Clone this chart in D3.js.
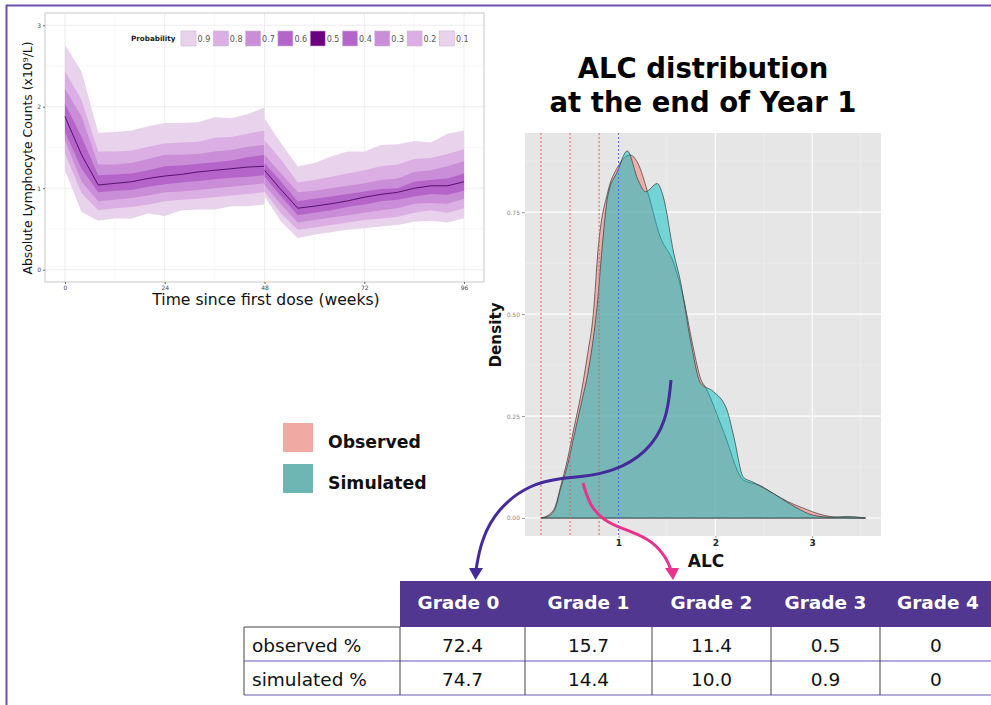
<!DOCTYPE html>
<html><head><meta charset="utf-8">
<script src="https://cdn.jsdelivr.net/npm/d3@7"></script>
<style>body{margin:0;background:#fff}svg{display:block}</style>
</head><body>
<svg id="fig" width="991" height="705"></svg>
<script>
// ---------- ALC time course: quantile bands, two dosing years ----------
const weeksA = [0,4,8,12,16,20,24,28,32,36,40,44,48];
const weeksB = [48,52,56,60,64,68,72,76,80,84,88,92,96];

const outerUpA = [2.76,2.43,1.68,1.69,1.71,1.76,1.80,1.80,1.81,1.87,1.86,1.91,1.99];
const band2UpA = [2.44,2.08,1.45,1.45,1.46,1.51,1.55,1.56,1.57,1.62,1.63,1.67,1.71];
const band3UpA = [2.22,1.88,1.29,1.29,1.31,1.36,1.41,1.41,1.42,1.45,1.47,1.51,1.53];
const band4UpA = [2.04,1.63,1.16,1.17,1.18,1.22,1.27,1.28,1.30,1.32,1.34,1.38,1.41];
const medianA  = [1.88,1.41,1.04,1.06,1.08,1.12,1.15,1.17,1.20,1.22,1.24,1.26,1.27];
const band4LoA = [1.69,1.24,0.95,0.97,0.98,1.02,1.05,1.07,1.09,1.11,1.13,1.14,1.16];
const band3LoA = [1.59,1.08,0.84,0.86,0.88,0.91,0.95,0.96,0.98,1.00,1.02,1.04,1.06];
const band2LoA = [1.43,0.94,0.73,0.755,0.77,0.80,0.84,0.86,0.87,0.89,0.91,0.93,0.95];
const outerLoA = [1.22,0.71,0.60,0.63,0.63,0.69,0.66,0.73,0.74,0.74,0.78,0.78,0.80];

const outerUpB = [1.86,1.55,1.27,1.31,1.39,1.45,1.45,1.53,1.54,1.58,1.56,1.67,1.71];
const band2UpB = [1.59,1.35,1.07,1.10,1.14,1.18,1.22,1.27,1.29,1.36,1.37,1.42,1.48];
const band3UpB = [1.41,1.18,0.95,0.97,1.00,1.03,1.06,1.10,1.12,1.20,1.22,1.27,1.33];
const band4UpB = [1.31,1.08,0.84,0.87,0.90,0.93,0.96,0.99,1.00,1.08,1.10,1.12,1.18];
const medianB  = [1.22,0.98,0.755,0.78,0.81,0.845,0.89,0.925,0.95,1.00,1.03,1.03,1.08];
const band4LoB = [1.14,0.90,0.67,0.70,0.73,0.77,0.80,0.84,0.86,0.90,0.93,0.92,0.97];
const band3LoB = [1.04,0.80,0.58,0.61,0.64,0.67,0.70,0.73,0.755,0.81,0.82,0.81,0.87];
const band2LoB = [0.96,0.69,0.49,0.52,0.55,0.58,0.61,0.63,0.65,0.70,0.73,0.70,0.755];
const outerLoB = [0.90,0.59,0.39,0.43,0.46,0.49,0.51,0.53,0.55,0.59,0.60,0.58,0.63];

const probLevels = ["0.9","0.8","0.7","0.6","0.5","0.4","0.3","0.2","0.1"];
const timeTicks = [0,24,48,72,96];
const countTicks = [0,1,2,3];

// ---------- ALC distribution at end of year 1 ----------
const obsAlc     = [0.2,0.28,0.35,0.40,0.47,0.54,0.61,0.68,0.74,0.79,0.89,0.99,1.12,1.20,1.30,1.43,1.57,1.67,1.77,1.85,1.90,2.08,2.29,2.46,2.60,2.75,2.90,3.10,3.25,3.55];
const obsDensity = [0,0.008,0.03,0.075,0.14,0.22,0.30,0.40,0.50,0.66,0.80,0.86,0.89,0.87,0.80,0.69,0.625,0.54,0.42,0.34,0.32,0.215,0.093,0.08,0.06,0.04,0.025,0.008,0.002,0];
const simAlc     = [0.2,0.28,0.35,0.40,0.47,0.54,0.61,0.68,0.74,0.78,0.83,0.89,0.99,1.09,1.20,1.28,1.40,1.46,1.57,1.64,1.74,1.85,1.98,2.12,2.19,2.29,2.39,2.60,2.84,3.01,3.20,3.36,3.55];
const simDensity = [0,0.005,0.025,0.07,0.126,0.20,0.275,0.35,0.44,0.52,0.66,0.79,0.85,0.90,0.83,0.80,0.82,0.79,0.65,0.58,0.44,0.33,0.31,0.265,0.20,0.10,0.088,0.06,0.025,0.007,0.002,0.004,0];
const gradeCuts = [0.2,0.5,0.8];
const lowerNormal = 1.0;
const alcTicks = [1,2,3];
const densityTicks = [0,0.25,0.5,0.75];

// ---------- grade table ----------
const grades = ["Grade 0","Grade 1","Grade 2","Grade 3","Grade 4"];
const rowNames = ["observed %","simulated %"];
const observedPct = ["72.4","15.7","11.4","0.5","0"];
const simulatedPct = ["74.7","14.4","10.0","0.9","0"];

const svg = d3.select("#fig");
const FONT = "DejaVu Sans, Verdana, sans-serif";

svg.append("rect").attr("width",991).attr("height",705).attr("fill","#fff");

// ======== time-course panel ========
const L = {x0:45, x1:484, y0:13, y1:282};
const xT = d3.scaleLinear().domain([-4.8,100.8]).range([L.x0,L.x1]);
const yT = d3.scaleLinear().domain([-0.15,3.15]).range([L.y1,L.y0]);
const gL = svg.append("g");
gL.append("rect").attr("x",L.x0).attr("y",L.y0).attr("width",L.x1-L.x0).attr("height",L.y1-L.y0).attr("fill","#fff");
// grid
[12,36,60,84].forEach(v=>gL.append("line").attr("x1",xT(v)).attr("x2",xT(v)).attr("y1",L.y0).attr("y2",L.y1).attr("stroke","#f4f4f4").attr("stroke-width",0.6));
[0.5,1.5,2.5].forEach(v=>gL.append("line").attr("y1",yT(v)).attr("y2",yT(v)).attr("x1",L.x0).attr("x2",L.x1).attr("stroke","#f4f4f4").attr("stroke-width",0.6));
timeTicks.forEach(v=>gL.append("line").attr("x1",xT(v)).attr("x2",xT(v)).attr("y1",L.y0).attr("y2",L.y1).attr("stroke","#ebebeb").attr("stroke-width",0.9));
countTicks.forEach(v=>gL.append("line").attr("y1",yT(v)).attr("y2",yT(v)).attr("x1",L.x0).attr("x2",L.x1).attr("stroke","#ebebeb").attr("stroke-width",0.9));

const bandFill = ["#e9d2ec","#dbafe3","#ca8dd7","#b564c9"];
function drawSegment(weeks, ups, los, med){
  ups.forEach((up,i)=>{
    const lo = los[i];
    const area = d3.area().x((d,j)=>xT(weeks[j])).y0((d,j)=>yT(lo[j])).y1((d,j)=>yT(up[j]));
    gL.append("path").attr("d",area(weeks)).attr("fill",bandFill[i]);
  });
  const line = d3.line().x((d,j)=>xT(weeks[j])).y(d=>yT(d));
  gL.append("path").attr("d",line(med)).attr("fill","none").attr("stroke","#4a0860").attr("stroke-width",0.9);
}
drawSegment(weeksA,[outerUpA,band2UpA,band3UpA,band4UpA],[outerLoA,band2LoA,band3LoA,band4LoA],medianA);
drawSegment(weeksB,[outerUpB,band2UpB,band3UpB,band4UpB],[outerLoB,band2LoB,band3LoB,band4LoB],medianB);

gL.append("rect").attr("x",L.x0).attr("y",L.y0).attr("width",L.x1-L.x0).attr("height",L.y1-L.y0).attr("fill","none").attr("stroke","#c8c8c8").attr("stroke-width",1);

const axB = gL.append("g").attr("transform",`translate(0,${L.y1})`).call(d3.axisBottom(xT).tickValues(timeTicks).tickSize(2).tickPadding(2));
const axLf = gL.append("g").attr("transform",`translate(${L.x0},0)`).call(d3.axisLeft(yT).tickValues(countTicks).tickFormat(d3.format("d")).tickSize(2).tickPadding(2));
[axB,axLf].forEach(a=>{a.select(".domain").remove();a.selectAll("line").attr("stroke","#666");a.selectAll("text").attr("font-family",FONT).attr("font-size",6).attr("fill","#444");});

gL.append("text").attr("x",266).attr("y",305).attr("text-anchor","middle").attr("font-family",FONT).attr("font-size",15.6).attr("fill","#111").text("Time since first dose (weeks)");
gL.append("text").attr("transform","translate(32,158) rotate(-90)").attr("text-anchor","middle").attr("font-family",FONT).attr("font-size",12.4).attr("fill","#111").text("Absolute Lymphocyte Counts (x10⁹/L)");

// legend
const legFill = ["#e9d2ec","#dbafe3","#ca8dd7","#b564c9","#6b0080","#b564c9","#ca8dd7","#dbafe3","#e9d2ec"];
gL.append("text").attr("x",131).attr("y",41).attr("font-family",FONT).attr("font-weight","bold").attr("font-size",7.2).attr("fill","#222").text("Probability");
probLevels.forEach((p,i)=>{
  const x = 181 + i*32.3;
  gL.append("rect").attr("x",x).attr("y",31).attr("width",15).attr("height",15).attr("fill",legFill[i]).attr("stroke","#cdb4d2").attr("stroke-width",0.6);
  gL.append("text").attr("x",x+16.5).attr("y",41.5).attr("font-family",FONT).attr("font-size",8).attr("fill","#555").text(p);
});

// ======== density panel ========
const D = {x0:525, x1:881, y0:133, y1:536};
const xA = d3.scaleLinear().domain([0.035,3.71]).range([D.x0,D.x1]);
const yD = d3.scaleLinear().domain([-0.044,0.944]).range([D.y1,D.y0]);
const gD = svg.append("g");
gD.append("rect").attr("x",D.x0).attr("y",D.y0).attr("width",D.x1-D.x0).attr("height",D.y1-D.y0).attr("fill","#e6e6e6");
[0.5,1.5,2.5,3.5].forEach(v=>gD.append("line").attr("x1",xA(v)).attr("x2",xA(v)).attr("y1",D.y0).attr("y2",D.y1).attr("stroke","#f2f2f2").attr("stroke-width",0.6));
[0.125,0.375,0.625,0.875].forEach(v=>gD.append("line").attr("y1",yD(v)).attr("y2",yD(v)).attr("x1",D.x0).attr("x2",D.x1).attr("stroke","#f2f2f2").attr("stroke-width",0.6));
alcTicks.forEach(v=>gD.append("line").attr("x1",xA(v)).attr("x2",xA(v)).attr("y1",D.y0).attr("y2",D.y1).attr("stroke","#fff").attr("stroke-width",1.1));
densityTicks.forEach(v=>gD.append("line").attr("y1",yD(v)).attr("y2",yD(v)).attr("x1",D.x0).attr("x2",D.x1).attr("stroke","#fff").attr("stroke-width",1.1));

const dArea = (xs,ys)=>d3.area().curve(d3.curveMonotoneX).x((d,i)=>xA(xs[i])).y0(yD(0)).y1(d=>yD(d))(ys);
gD.append("path").attr("d",dArea(obsAlc,obsDensity)).attr("fill","#F8766D").attr("fill-opacity",0.5).attr("stroke","#3a3a3a").attr("stroke-width",0.7);
gD.append("path").attr("d",dArea(simAlc,simDensity)).attr("fill","#00BFC4").attr("fill-opacity",0.5).attr("stroke","#3a3a3a").attr("stroke-width",0.7);

gradeCuts.forEach(v=>gD.append("line").attr("x1",xA(v)).attr("x2",xA(v)).attr("y1",D.y0).attr("y2",D.y1).attr("stroke","#e0605c").attr("stroke-width",1).attr("stroke-dasharray","2,2"));
gD.append("line").attr("x1",xA(lowerNormal)).attr("x2",xA(lowerNormal)).attr("y1",D.y0).attr("y2",D.y1).attr("stroke","#4a6fd8").attr("stroke-width",1).attr("stroke-dasharray","2,2");

const axDx = gD.append("g").attr("transform",`translate(0,${D.y1})`).call(d3.axisBottom(xA).tickValues(alcTicks).tickFormat(d3.format("d")).tickSize(2).tickPadding(2));
const axDy = gD.append("g").attr("transform",`translate(${D.x0},0)`).call(d3.axisLeft(yD).tickValues(densityTicks).tickFormat(d3.format(".2f")).tickSize(3).tickPadding(2));
[axDx,axDy].forEach(a=>{a.select(".domain").remove();a.selectAll("line").attr("stroke","#999");});
axDx.selectAll("text").attr("font-family",FONT).attr("font-weight","bold").attr("font-size",9).attr("fill","#222");
axDy.selectAll("text").attr("font-family",FONT).attr("font-size",6).attr("fill","#888");

gD.append("text").attr("x",706).attr("y",567).attr("text-anchor","middle").attr("font-family",FONT).attr("font-weight","bold").attr("font-size",17).attr("fill","#111").text("ALC");
gD.append("text").attr("transform","translate(501,335) rotate(-90)").attr("text-anchor","middle").attr("font-family",FONT).attr("font-weight","bold").attr("font-size",15.2).attr("fill","#111").text("Density");

// title
svg.append("text").attr("x",703).attr("y",78).attr("text-anchor","middle").attr("font-family",FONT).attr("font-weight","bold").attr("font-size",27.5).attr("fill","#000").text("ALC distribution");
svg.append("text").attr("x",703).attr("y",112).attr("text-anchor","middle").attr("font-family",FONT).attr("font-weight","bold").attr("font-size",27.5).attr("fill","#000").text("at the end of Year 1");

// series key
[["Observed","#f0a9a3",423],["Simulated","#6db6b3",464]].forEach(([lab,col,y])=>{
  svg.append("rect").attr("x",283).attr("y",y).attr("width",30).attr("height",29).attr("fill",col);
  svg.append("text").attr("x",328).attr("y",y+25).attr("font-family",FONT).attr("font-weight","bold").attr("font-size",17.3).attr("fill","#111").text(lab);
});

// ======== grade table ========
const colEdges = [400,525,652,771,880,1000];
const T = {x0:244, top:581, head:627, r1:661, r2:695};
svg.append("rect").attr("x",colEdges[0]).attr("y",T.top).attr("width",991-colEdges[0]).attr("height",T.head-T.top).attr("fill","#51378f");
grades.forEach((g,i)=>{
  const cx = (colEdges[i]+colEdges[i+1])/2 - (i===4?2:0) - (i===0?4:0);
  svg.append("text").attr("x",cx).attr("y",609).attr("text-anchor","middle").attr("font-family",FONT).attr("font-weight","bold").attr("font-size",18.5).attr("fill","#fff").text(g);
});
svg.append("line").attr("x1",T.x0).attr("x2",colEdges[0]).attr("y1",T.head).attr("y2",T.head).attr("stroke","#444").attr("stroke-width",1);
[T.r1,T.r2].forEach(y=>svg.append("line").attr("x1",T.x0).attr("x2",991).attr("y1",y).attr("y2",y).attr("stroke","#9a8fcf").attr("stroke-width",1.5));
[T.x0].concat(colEdges.slice(0,5)).forEach(x=>svg.append("line").attr("x1",x).attr("x2",x).attr("y1",T.head).attr("y2",T.r2).attr("stroke","#444").attr("stroke-width",1));
[[rowNames[0],observedPct,T.head],[rowNames[1],simulatedPct,T.r1]].forEach(([name,vals,y])=>{
  svg.append("text").attr("x",252).attr("y",y+25).attr("font-family",FONT).attr("font-size",18.5).attr("fill","#111").text(name);
  vals.forEach((v,i)=>{
    const cx = (colEdges[i]+colEdges[i+1])/2 - (i===4?4:0);
    svg.append("text").attr("x",cx).attr("y",y+25).attr("text-anchor","middle").attr("font-family",FONT).attr("font-size",18.5).attr("fill","#111").text(v);
  });
});

// ======== annotation arrows ========
const smooth = d3.line().curve(d3.curveBasis);
const purplePath = [[671,380],[667,421],[647,453],[613,472],[580,477],[563,478],[530,484],[498,508],[481,540],[476,570]];
const pinkPath = [[583,483],[590,507],[607,523],[630,531],[653,541],[667,559],[671,570]];
svg.append("path").attr("d",smooth(purplePath)).attr("fill","none").attr("stroke","#452a9b").attr("stroke-width",3);
svg.append("path").attr("d","M469,568 L483,568 L475.5,580 Z").attr("fill","#452a9b");
svg.append("path").attr("d",smooth(pinkPath)).attr("fill","none").attr("stroke","#e8328c").attr("stroke-width",3);
svg.append("path").attr("d","M665,568 L679,568 L673,580 Z").attr("fill","#e8328c");

// outer frame
svg.append("line").attr("x1",6).attr("x2",991).attr("y1",5.5).attr("y2",5.5).attr("stroke","#6a4fb3").attr("stroke-width",2);
svg.append("line").attr("x1",6.5).attr("x2",6.5).attr("y1",5).attr("y2",705).attr("stroke","#6a4fb3").attr("stroke-width",2);
</script>
</body></html>
